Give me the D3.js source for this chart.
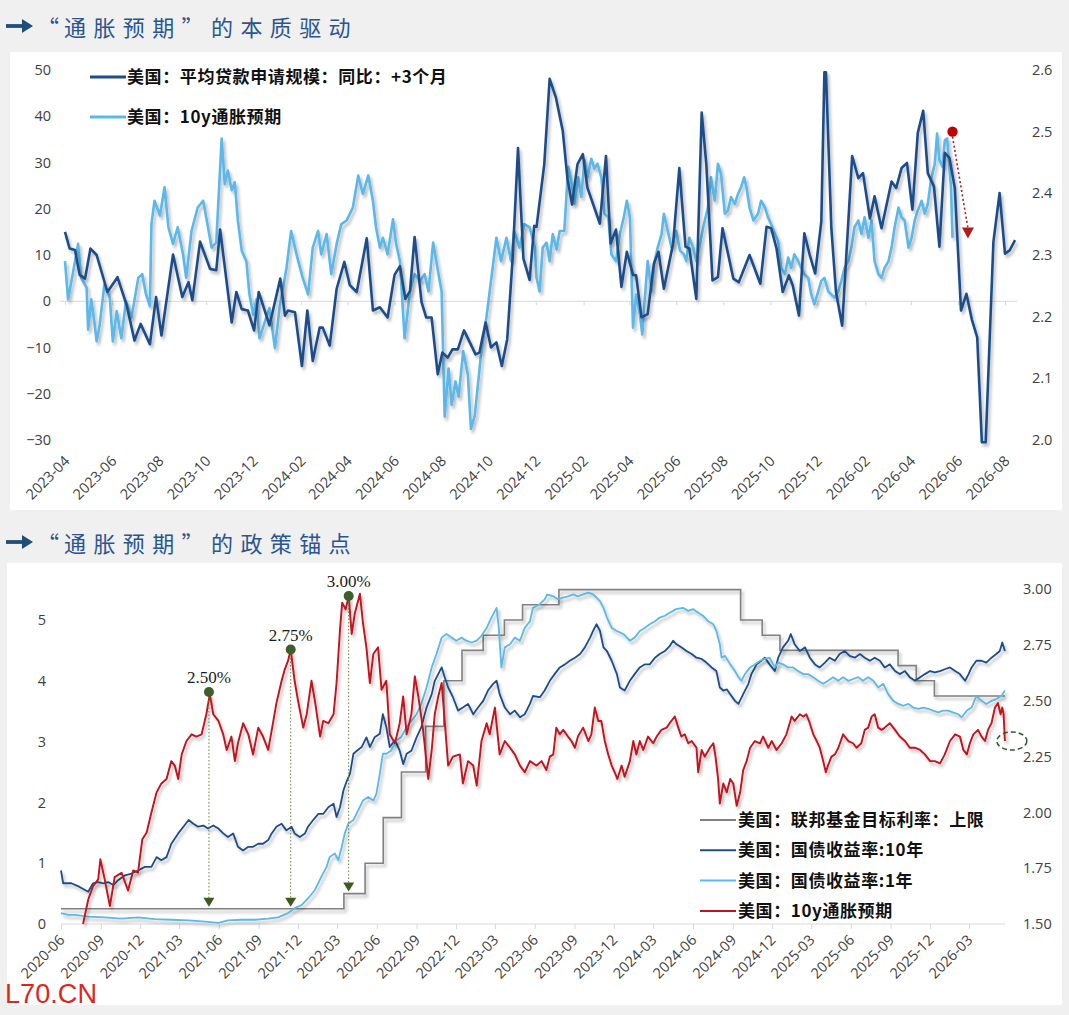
<!DOCTYPE html>
<html>
<head>
<meta charset="utf-8">
<script src="https://cdn.jsdelivr.net/npm/d3@7"></script>
<style>
body { margin: 0; background: #f0f0f0; }
svg { display: block; }
</style>
</head>
<body>
<svg id="chart" width="1069" height="1015"></svg>
<script>
// ---------- top chart data ----------
var topXTicks = ["2023-04","2023-06","2023-08","2023-10","2023-12","2024-02","2024-04","2024-06","2024-08","2024-10","2024-12",
  "2025-02","2025-04","2025-06","2025-08","2025-10","2025-12","2026-02","2026-04","2026-06","2026-08"];
var topLeftTicks = [-30,-20,-10,0,10,20,30,40,50];
var topRightTicks = [2.0,2.1,2.2,2.3,2.4,2.5,2.6];
var topLegend = ["美国：平均贷款申请规模：同比：+3个月", "美国：10y通胀预期"];

// 美国：平均贷款申请规模：同比（+3个月），左轴
var loanYoY = [
["2023-04-01",15.0],["2023-04-07",11.4],["2023-04-14",11.1],["2023-04-20",5.7],["2023-04-27",4.9],["2023-05-04",11.4],
["2023-05-12",10.0],["2023-05-26",2.0],["2023-06-08",5.2],["2023-06-20",-0.9],["2023-06-30",-8.5],["2023-07-08",-4.9],
["2023-07-20",-9.3],["2023-07-28",0.9],["2023-08-04",-7.4],["2023-08-19",10.1],["2023-08-31",0.9],["2023-09-08",4.1],
["2023-09-13",0.2],["2023-09-23",12.9],["2023-10-06",7.0],["2023-10-14",6.7],["2023-10-19",15.5],["2023-11-03",-4.6],
["2023-11-09",2.0],["2023-11-16",-1.7],["2023-11-24",-2.0],["2023-12-02",-6.3],["2023-12-08",2.0],["2023-12-22",-5.2],
["2024-01-05",4.9],["2024-01-11",-3.1],["2024-01-15",-2.0],["2024-01-24",-2.4],["2024-02-02",-14.0],["2024-02-09",-2.0],
["2024-02-16",-12.9],["2024-02-25",-5.7],["2024-02-29",-5.7],["2024-03-09",-9.6],["2024-03-18",2.7],["2024-03-28",8.5],
["2024-04-04",3.5],["2024-04-13",2.0],["2024-04-26",13.6],["2024-05-04",-2.0],["2024-05-13",-1.3],["2024-05-23",-3.5],
["2024-06-01",5.7],["2024-06-08",7.6],["2024-06-15",0.5],["2024-06-21",2.2],["2024-06-27",13.9],["2024-07-06",-0.2],
["2024-07-12",-3.5],["2024-07-19",-3.5],["2024-07-27",-15.8],["2024-08-02",-11.1],["2024-08-09",-12.2],["2024-08-15",-10.4],
["2024-08-22",-10.4],["2024-08-30",-6.3],["2024-09-14",-11.5],["2024-09-19",-11.1],["2024-09-27",-4.6],["2024-10-04",-10.0],
["2024-10-11",-8.9],["2024-10-18",-14.0],["2024-10-25",-8.2],["2024-11-01",9.2],["2024-11-08",33.1],["2024-11-15",9.2],
["2024-11-23",4.6],["2024-11-29",16.3],["2024-12-02",16.1],["2024-12-12",29.6],["2024-12-19",48.1],["2024-12-27",44.1],
["2025-01-05",36.8],["2025-01-11",26.6],["2025-01-17",20.9],["2025-01-24",29.6],["2025-01-31",31.8],["2025-02-06",24.5],
["2025-02-22",16.8],["2025-03-02",31.4],["2025-03-08",12.5],["2025-03-15",15.5],["2025-03-22",3.1],["2025-03-29",10.7],
["2025-04-06",5.7],["2025-04-10",5.6],["2025-04-17",-3.5],["2025-04-25",-2.8],["2025-05-03",8.1],["2025-05-09",10.7],
["2025-05-16",2.7],["2025-05-28",12.5],["2025-06-05",28.8],["2025-06-13",11.8],["2025-06-18",11.4],["2025-06-27",0.5],
["2025-07-04",40.8],["2025-07-10",29.6],["2025-07-18",4.5],["2025-07-25",5.2],["2025-07-31",15.8],["2025-08-14",4.9],
["2025-08-21",4.1],["2025-09-04",10.0],["2025-09-18",3.8],["2025-09-26",16.1],["2025-10-02",15.8],["2025-10-09",11.4],
["2025-10-17",2.0],["2025-10-25",5.6],["2025-10-30",3.4],["2025-11-07",-3.1],["2025-11-14",14.7],["2025-11-21",10.0],
["2025-11-28",6.0],["2025-12-06",17.2],["2025-12-10",49.5],["2025-12-12",49.5],["2025-12-19",15.8],["2025-12-25",2.0],
["2026-01-02",-5.3],["2026-01-15",31.4],["2026-01-23",26.6],["2026-01-29",27.7],["2026-02-07",17.9],["2026-02-13",22.7],
["2026-02-22",15.8],["2026-03-07",25.9],["2026-03-13",24.5],["2026-03-20",28.8],["2026-03-27",29.9],["2026-04-03",19.8],
["2026-04-10",36.4],["2026-04-17",41.2],["2026-04-23",27.7],["2026-05-01",24.8],["2026-05-08",11.8],["2026-05-15",32.1],
["2026-05-21",31.0],["2026-05-28",24.5],["2026-06-05",-2.0],["2026-06-12",1.6],["2026-06-19",-3.9],["2026-06-26",-7.8],
["2026-07-02",-30.5],["2026-07-07",-30.5],["2026-07-17",12.9],["2026-07-25",23.4],["2026-08-01",10.3],["2026-08-07",11.0],
["2026-08-14",13.2]
];

// 美国：10y通胀预期，右轴
var be10yTop = [
["2023-04-01",2.290],["2023-04-05",2.228],["2023-04-11",2.269],["2023-04-18",2.318],["2023-04-22",2.263],["2023-04-29",2.247],
["2023-05-01",2.179],["2023-05-05",2.228],["2023-05-09",2.192],["2023-05-12",2.160],["2023-05-16",2.187],["2023-05-22",2.252],
["2023-05-29",2.231],["2023-06-02",2.160],["2023-06-07",2.209],["2023-06-13",2.165],["2023-06-19",2.225],["2023-06-26",2.198],
["2023-07-05",2.263],["2023-07-10",2.269],["2023-07-15",2.236],["2023-07-20",2.217],["2023-07-22",2.350],["2023-07-26",2.388],
["2023-08-02",2.364],["2023-08-08",2.410],["2023-08-13",2.345],["2023-08-19",2.318],["2023-08-25",2.345],["2023-09-01",2.301],
["2023-09-05",2.263],["2023-09-12",2.339],["2023-09-20",2.377],["2023-09-27",2.388],["2023-10-01",2.361],["2023-10-08",2.312],
["2023-10-14",2.320],["2023-10-21",2.489],["2023-10-25",2.415],["2023-10-29",2.437],["2023-11-03",2.405],["2023-11-07",2.418],
["2023-11-11",2.356],["2023-11-16",2.307],["2023-11-22",2.290],["2023-11-26",2.236],["2023-12-01",2.203],["2023-12-05",2.228],
["2023-12-09",2.165],["2023-12-16",2.192],["2023-12-22",2.214],["2023-12-29",2.149],["2024-01-04",2.214],["2024-01-13",2.279],
["2024-01-19",2.339],["2024-01-26",2.301],["2024-02-03",2.263],["2024-02-10",2.236],["2024-02-16",2.312],["2024-02-23",2.339],
["2024-02-27",2.301],["2024-03-05",2.334],["2024-03-11",2.269],["2024-03-18",2.318],["2024-03-24",2.350],["2024-03-31",2.356],
["2024-04-08",2.377],["2024-04-15",2.429],["2024-04-21",2.399],["2024-04-28",2.429],["2024-05-04",2.388],["2024-05-08",2.345],
["2024-05-13",2.312],["2024-05-17",2.328],["2024-05-23",2.301],["2024-05-30",2.358],["2024-06-03",2.318],["2024-06-08",2.290],
["2024-06-14",2.165],["2024-06-21",2.241],["2024-06-27",2.269],["2024-07-04",2.258],["2024-07-10",2.269],["2024-07-15",2.241],
["2024-07-21",2.320],["2024-07-28",2.269],["2024-08-01",2.241],["2024-08-05",2.038],["2024-08-10",2.116],["2024-08-14",2.057],
["2024-08-19",2.095],["2024-08-23",2.070],["2024-08-29",2.144],["2024-09-04",2.106],["2024-09-08",2.018],["2024-09-13",2.040],
["2024-09-17",2.089],["2024-09-21",2.138],["2024-09-28",2.198],["2024-10-04",2.258],["2024-10-11",2.328],["2024-10-17",2.290],
["2024-10-24",2.328],["2024-10-30",2.290],["2024-11-03",2.339],["2024-11-10",2.312],["2024-11-16",2.350],["2024-11-23",2.345],
["2024-11-30",2.312],["2024-12-02",2.263],["2024-12-06",2.241],["2024-12-10",2.312],["2024-12-15",2.320],["2024-12-19",2.290],
["2024-12-23",2.334],["2024-12-28",2.309],["2025-01-01",2.339],["2025-01-07",2.339],["2025-01-12",2.443],["2025-01-16",2.421],
["2025-01-20",2.383],["2025-01-25",2.426],["2025-01-29",2.394],["2025-02-02",2.454],["2025-02-06",2.426],["2025-02-11",2.456],
["2025-02-15",2.440],["2025-02-19",2.448],["2025-02-24",2.426],["2025-02-28",2.367],["2025-03-05",2.361],["2025-03-09",2.301],
["2025-03-15",2.290],["2025-03-20",2.334],["2025-03-25",2.361],["2025-03-29",2.388],["2025-04-02",2.361],["2025-04-06",2.182],
["2025-04-10",2.236],["2025-04-15",2.203],["2025-04-18",2.171],["2025-04-21",2.225],["2025-04-25",2.290],["2025-04-30",2.241],
["2025-05-04",2.290],["2025-05-08",2.312],["2025-05-13",2.334],["2025-05-16",2.367],["2025-05-21",2.339],["2025-05-26",2.312],
["2025-06-01",2.339],["2025-06-06",2.307],["2025-06-11",2.301],["2025-06-14",2.290],["2025-06-18",2.328],["2025-06-23",2.312],
["2025-06-27",2.290],["2025-07-01",2.312],["2025-07-06",2.345],["2025-07-12",2.377],["2025-07-16",2.426],["2025-07-21",2.388],
["2025-07-25",2.448],["2025-07-29",2.432],["2025-08-03",2.367],["2025-08-07",2.372],["2025-08-11",2.394],["2025-08-16",2.383],
["2025-08-20",2.399],["2025-08-24",2.410],["2025-08-28",2.426],["2025-08-31",2.410],["2025-09-04",2.377],["2025-09-09",2.356],
["2025-09-15",2.367],["2025-09-19",2.388],["2025-09-24",2.377],["2025-09-28",2.361],["2025-10-02",2.350],["2025-10-07",2.334],
["2025-10-11",2.323],["2025-10-15",2.279],["2025-10-20",2.269],["2025-10-24",2.296],["2025-10-28",2.279],["2025-11-01",2.301],
["2025-11-06",2.290],["2025-11-10",2.279],["2025-11-14",2.269],["2025-11-19",2.263],["2025-11-23",2.236],["2025-11-27",2.220],
["2025-12-02",2.241],["2025-12-06",2.258],["2025-12-10",2.263],["2025-12-15",2.241],["2025-12-19",2.236],["2025-12-23",2.231],
["2025-12-28",2.241],["2026-01-01",2.258],["2026-01-05",2.279],["2026-01-10",2.290],["2026-01-14",2.312],["2026-01-18",2.345],
["2026-01-23",2.356],["2026-01-27",2.334],["2026-01-31",2.361],["2026-02-05",2.328],["2026-02-09",2.356],["2026-02-13",2.290],
["2026-02-18",2.269],["2026-02-22",2.263],["2026-02-26",2.279],["2026-03-03",2.290],["2026-03-07",2.312],["2026-03-11",2.345],
["2026-03-16",2.377],["2026-03-20",2.361],["2026-03-24",2.356],["2026-03-29",2.312],["2026-04-02",2.328],["2026-04-06",2.356],
["2026-04-10",2.372],["2026-04-15",2.388],["2026-04-19",2.367],["2026-04-23",2.383],["2026-04-27",2.421],["2026-05-02",2.448],
["2026-05-05",2.497],["2026-05-08",2.454],["2026-05-12",2.443],["2026-05-15",2.486],["2026-05-18",2.489],["2026-05-20",2.459],
["2026-05-23",2.410],["2026-05-25",2.328]
];
var topPeak = ["2026-05-25", 2.50];
var topArrowEnd = ["2026-06-14", 2.33];

// ---------- bottom chart data ----------
var bottomXTicks = ["2020-06","2020-09","2020-12","2021-03","2021-06","2021-09","2021-12","2022-03","2022-06","2022-09","2022-12",
  "2023-03","2023-06","2023-09","2023-12","2024-03","2024-06","2024-09","2024-12","2025-03","2025-06","2025-09","2025-12","2026-03"];
var bottomLeftTicks = [0,1,2,3,4,5];
var bottomRightTicks = [1.5,1.75,2.0,2.25,2.5,2.75,3.0];
var bottomLegend = ["美国：联邦基金目标利率：上限", "美国：国债收益率:10年", "美国：国债收益率:1年", "美国：10y通胀预期"];

// 联邦基金目标利率上限（阶梯）
var fedUpper = [
["2020-06-01",0.25],["2022-03-17",0.50],["2022-05-05",1.00],["2022-06-16",1.75],["2022-07-28",2.50],["2022-09-22",3.25],
["2022-11-03",4.00],["2022-12-15",4.50],["2023-02-02",4.75],["2023-03-23",5.00],["2023-05-04",5.25],["2023-07-27",5.50],
["2024-09-19",5.00],["2024-11-08",4.75],["2024-12-19",4.50],["2025-09-18",4.25],["2025-10-30",4.00],["2025-12-11",3.75],
["2026-05-23",3.75]
];

var ust10y = [
["2020-06-01",0.88],["2020-06-06",0.67],["2020-06-25",0.67],["2020-07-14",0.61],["2020-08-03",0.53],["2020-08-14",0.67],
["2020-08-26",0.69],["2020-09-07",0.67],["2020-09-18",0.69],["2020-09-30",0.64],["2020-10-11",0.72],["2020-10-27",0.80],
["2020-11-11",0.83],["2020-11-26",0.88],["2020-12-12",0.94],["2020-12-27",0.94],["2021-01-08",1.10],["2021-01-19",1.05],
["2021-01-31",1.10],["2021-02-11",1.32],["2021-02-27",1.49],["2021-03-11",1.60],["2021-03-23",1.71],["2021-04-03",1.65],
["2021-04-14",1.60],["2021-04-26",1.62],["2021-05-07",1.57],["2021-05-19",1.62],["2021-05-31",1.57],["2021-06-11",1.49],
["2021-06-22",1.43],["2021-07-04",1.49],["2021-07-15",1.27],["2021-07-27",1.21],["2021-08-08",1.27],["2021-08-19",1.27],
["2021-08-31",1.32],["2021-09-11",1.32],["2021-09-23",1.38],["2021-10-01",1.49],["2021-10-12",1.60],["2021-10-24",1.65],
["2021-11-04",1.54],["2021-11-16",1.60],["2021-11-23",1.49],["2021-12-05",1.43],["2021-12-17",1.49],["2021-12-24",1.60],
["2022-01-05",1.71],["2022-01-17",1.81],["2022-01-28",1.81],["2022-02-09",1.92],["2022-02-21",1.98],["2022-02-28",1.76],
["2022-03-08",1.92],["2022-03-16",2.20],["2022-03-24",2.36],["2022-03-31",2.47],["2022-04-08",2.80],["2022-04-16",2.85],
["2022-04-27",2.91],["2022-05-08",3.07],["2022-05-16",2.91],["2022-05-27",3.07],["2022-06-08",3.13],["2022-06-15",3.45],
["2022-06-23",3.24],["2022-07-01",2.91],["2022-07-13",3.02],["2022-07-24",2.85],["2022-08-01",2.63],["2022-08-09",2.80],
["2022-08-20",2.85],["2022-09-01",3.07],["2022-09-12",3.24],["2022-09-24",3.56],["2022-10-06",3.78],["2022-10-13",4.00],
["2022-10-21",4.11],["2022-10-29",4.22],["2022-11-05",4.06],["2022-11-13",3.89],["2022-11-24",3.73],["2022-12-06",3.51],
["2022-12-17",3.56],["2022-12-29",3.62],["2023-01-10",3.45],["2023-01-21",3.56],["2023-02-02",3.67],["2023-02-13",3.84],
["2023-02-25",3.95],["2023-03-05",4.00],["2023-03-12",3.78],["2023-03-24",3.56],["2023-04-05",3.45],["2023-04-16",3.51],
["2023-04-28",3.40],["2023-05-09",3.45],["2023-05-21",3.62],["2023-05-28",3.75],["2023-06-13",3.73],["2023-06-24",3.84],
["2023-07-06",4.00],["2023-07-17",4.11],["2023-07-29",4.22],["2023-08-10",4.27],["2023-08-21",4.33],["2023-09-02",4.38],
["2023-09-14",4.44],["2023-09-25",4.55],["2023-10-07",4.71],["2023-10-14",4.82],["2023-10-22",4.93],["2023-10-30",4.82],
["2023-11-07",4.55],["2023-11-15",4.49],["2023-11-26",4.33],["2023-12-08",4.11],["2023-12-15",3.89],["2023-12-26",3.84],
["2024-01-07",4.00],["2024-01-18",4.11],["2024-01-30",4.22],["2024-02-10",4.27],["2024-02-22",4.27],["2024-03-05",4.38],
["2024-03-16",4.44],["2024-03-28",4.49],["2024-04-08",4.57],["2024-04-16",4.66],["2024-04-24",4.60],["2024-05-05",4.55],
["2024-05-17",4.49],["2024-05-29",4.44],["2024-06-09",4.38],["2024-06-21",4.36],["2024-07-02",4.30],["2024-07-14",4.22],
["2024-07-25",4.16],["2024-08-02",3.89],["2024-08-10",3.84],["2024-08-18",3.86],["2024-08-26",3.78],["2024-09-06",3.67],
["2024-09-14",3.62],["2024-09-25",3.78],["2024-10-07",3.95],["2024-10-14",4.11],["2024-10-26",4.27],["2024-11-06",4.33],
["2024-11-14",4.38],["2024-11-25",4.27],["2024-12-07",4.16],["2024-12-15",4.38],["2024-12-26",4.55],["2025-01-07",4.66],
["2025-01-13",4.77],["2025-01-22",4.60],["2025-02-03",4.49],["2025-02-15",4.55],["2025-02-26",4.38],["2025-03-10",4.27],
["2025-03-21",4.22],["2025-04-02",4.30],["2025-04-13",4.38],["2025-04-25",4.33],["2025-05-06",4.44],["2025-05-18",4.49],
["2025-05-29",4.41],["2025-06-10",4.38],["2025-06-22",4.44],["2025-07-03",4.38],["2025-07-15",4.33],["2025-07-26",4.38],
["2025-08-07",4.33],["2025-08-18",4.22],["2025-08-30",4.27],["2025-09-11",4.16],["2025-09-22",4.11],["2025-10-04",4.16],
["2025-10-15",4.06],["2025-10-27",4.00],["2025-11-08",4.06],["2025-11-19",4.11],["2025-12-01",4.16],["2025-12-12",4.14],
["2025-12-24",4.16],["2026-01-04",4.19],["2026-01-16",4.22],["2026-01-28",4.16],["2026-02-08",4.11],["2026-02-20",4.00],
["2026-02-28",4.11],["2026-03-07",4.22],["2026-03-18",4.33],["2026-03-30",4.33],["2026-04-10",4.30],["2026-04-22",4.38],
["2026-05-03",4.44],["2026-05-11",4.49],["2026-05-17",4.63],["2026-05-23",4.49]
];

var ust1y = [
["2020-06-01",0.18],["2020-06-18",0.15],["2020-07-03",0.15],["2020-08-03",0.12],["2020-09-10",0.11],["2020-10-19",0.09],
["2020-11-26",0.11],["2021-01-04",0.08],["2021-02-11",0.07],["2021-03-23",0.06],["2021-04-30",0.04],["2021-05-31",0.02],
["2021-06-22",0.06],["2021-07-23",0.07],["2021-08-23",0.07],["2021-09-23",0.09],["2021-10-16",0.11],["2021-11-08",0.18],
["2021-11-23",0.26],["2021-12-09",0.31],["2021-12-24",0.42],["2022-01-09",0.56],["2022-01-24",0.78],["2022-02-05",0.94],
["2022-02-12",1.10],["2022-02-24",1.16],["2022-03-04",1.05],["2022-03-12",1.27],["2022-03-19",1.49],["2022-03-27",1.65],
["2022-04-08",1.71],["2022-04-19",1.87],["2022-04-30",2.03],["2022-05-12",2.09],["2022-05-24",2.03],["2022-05-31",2.14],
["2022-06-08",2.47],["2022-06-15",2.80],["2022-06-23",2.80],["2022-07-04",2.85],["2022-07-16",3.02],["2022-07-27",3.07],
["2022-08-09",3.24],["2022-08-20",3.34],["2022-09-01",3.45],["2022-09-12",3.62],["2022-09-24",3.89],["2022-10-06",4.22],
["2022-10-17",4.44],["2022-10-29",4.71],["2022-11-09",4.77],["2022-11-21",4.71],["2022-12-02",4.66],["2022-12-14",4.71],
["2022-12-25",4.66],["2023-01-06",4.63],["2023-01-18",4.66],["2023-01-29",4.74],["2023-02-10",4.87],["2023-02-21",5.04],
["2023-03-05",5.20],["2023-03-10",4.87],["2023-03-16",4.22],["2023-03-24",4.55],["2023-04-05",4.60],["2023-04-16",4.71],
["2023-04-28",4.66],["2023-05-09",4.87],["2023-05-21",4.98],["2023-05-28",5.20],["2023-06-13",5.26],["2023-06-24",5.34],
["2023-06-30",5.42],["2023-07-14",5.39],["2023-07-25",5.34],["2023-08-06",5.37],["2023-08-17",5.39],["2023-08-29",5.42],
["2023-09-09",5.39],["2023-09-21",5.42],["2023-10-03",5.45],["2023-10-14",5.42],["2023-10-22",5.37],["2023-10-30",5.31],
["2023-11-07",5.20],["2023-11-15",5.04],["2023-11-26",4.87],["2023-12-08",4.82],["2023-12-23",4.77],["2024-01-07",4.66],
["2024-01-18",4.71],["2024-01-30",4.82],["2024-02-10",4.87],["2024-02-22",4.93],["2024-03-05",4.98],["2024-03-16",5.04],
["2024-03-28",5.07],["2024-04-08",5.12],["2024-04-16",5.15],["2024-04-23",5.18],["2024-05-09",5.20],["2024-05-21",5.15],
["2024-06-01",5.18],["2024-06-13",5.12],["2024-06-24",5.07],["2024-07-06",4.98],["2024-07-18",4.93],["2024-07-25",4.82],
["2024-08-02",4.60],["2024-08-06",4.38],["2024-08-14",4.41],["2024-08-26",4.27],["2024-09-06",4.16],["2024-09-14",4.06],
["2024-09-21",4.00],["2024-09-29",4.11],["2024-10-11",4.22],["2024-10-22",4.27],["2024-11-03",4.33],["2024-11-14",4.36],
["2024-11-25",4.38],["2024-12-07",4.22],["2024-12-15",4.30],["2024-12-26",4.27],["2025-01-07",4.22],["2025-01-18",4.22],
["2025-01-30",4.16],["2025-02-11",4.11],["2025-02-22",4.11],["2025-03-06",4.06],["2025-03-17",4.00],["2025-03-29",3.95],
["2025-04-09",4.00],["2025-04-21",4.06],["2025-05-03",4.00],["2025-05-14",4.06],["2025-05-26",4.00],["2025-06-06",4.03],
["2025-06-18",4.06],["2025-06-29",4.00],["2025-07-11",4.06],["2025-07-23",4.00],["2025-08-03",3.89],["2025-08-15",3.95],
["2025-08-26",3.78],["2025-09-07",3.67],["2025-09-19",3.62],["2025-09-30",3.59],["2025-10-12",3.62],["2025-10-23",3.56],
["2025-11-04",3.54],["2025-11-15",3.56],["2025-11-27",3.54],["2025-12-08",3.51],["2025-12-20",3.48],["2025-12-31",3.51],
["2026-01-12",3.51],["2026-01-23",3.48],["2026-02-04",3.45],["2026-02-12",3.40],["2026-02-24",3.51],["2026-03-07",3.56],
["2026-03-18",3.75],["2026-03-30",3.67],["2026-04-10",3.62],["2026-04-22",3.67],["2026-05-03",3.70],["2026-05-15",3.75],
["2026-05-23",3.84]
];

// 美国：10y通胀预期（右轴）
var be10yLong = [
["2020-07-22",1.50],["2020-08-03",1.61],["2020-08-14",1.67],["2020-08-26",1.70],["2020-08-31",1.79],["2020-09-10",1.70],
["2020-09-22",1.58],["2020-10-03",1.71],["2020-10-19",1.73],["2020-11-03",1.65],["2020-11-15",1.74],["2020-11-26",1.73],
["2020-12-06",1.88],["2020-12-16",1.91],["2020-12-27",2.00],["2021-01-08",2.09],["2021-01-19",2.13],["2021-01-31",2.15],
["2021-02-11",2.23],["2021-02-19",2.21],["2021-02-27",2.15],["2021-03-07",2.26],["2021-03-18",2.32],["2021-03-30",2.35],
["2021-04-10",2.34],["2021-04-22",2.35],["2021-05-03",2.44],["2021-05-11",2.53],["2021-05-19",2.44],["2021-05-31",2.41],
["2021-06-11",2.35],["2021-06-19",2.28],["2021-06-30",2.34],["2021-07-08",2.23],["2021-07-15",2.31],["2021-07-27",2.40],
["2021-08-08",2.35],["2021-08-19",2.26],["2021-08-31",2.38],["2021-09-11",2.34],["2021-09-23",2.28],["2021-10-04",2.40],
["2021-10-12",2.49],["2021-10-24",2.59],["2021-10-31",2.64],["2021-11-08",2.68],["2021-11-14",2.73],["2021-11-23",2.59],
["2021-12-01",2.50],["2021-12-13",2.38],["2021-12-21",2.44],["2022-01-01",2.59],["2022-01-09",2.50],["2022-01-21",2.34],
["2022-01-28",2.41],["2022-02-09",2.40],["2022-02-21",2.44],["2022-02-28",2.58],["2022-03-08",2.82],["2022-03-13",2.94],
["2022-03-21",2.91],["2022-03-28",2.97],["2022-04-04",2.80],["2022-04-11",2.89],["2022-04-23",2.98],["2022-04-30",2.85],
["2022-05-08",2.74],["2022-05-16",2.58],["2022-05-24",2.71],["2022-06-04",2.74],["2022-06-12",2.55],["2022-06-23",2.59],
["2022-07-01",2.35],["2022-07-13",2.31],["2022-07-24",2.40],["2022-08-01",2.52],["2022-08-09",2.35],["2022-08-20",2.44],
["2022-08-28",2.61],["2022-09-05",2.52],["2022-09-16",2.37],["2022-09-28",2.15],["2022-10-06",2.28],["2022-10-13",2.44],
["2022-10-21",2.52],["2022-10-29",2.58],["2022-11-05",2.41],["2022-11-13",2.21],["2022-11-24",2.25],["2022-12-10",2.26],
["2022-12-17",2.13],["2022-12-29",2.23],["2023-01-10",2.21],["2023-01-18",2.12],["2023-01-29",2.32],["2023-02-10",2.40],
["2023-02-17",2.35],["2023-03-01",2.47],["2023-03-12",2.26],["2023-03-24",2.32],["2023-04-05",2.29],["2023-04-16",2.26],
["2023-04-28",2.21],["2023-05-09",2.18],["2023-05-21",2.23],["2023-06-05",2.21],["2023-06-17",2.23],["2023-06-28",2.19],
["2023-07-06",2.25],["2023-07-14",2.26],["2023-07-21",2.38],["2023-07-29",2.35],["2023-08-06",2.37],["2023-08-17",2.34],
["2023-08-25",2.32],["2023-09-02",2.29],["2023-09-09",2.34],["2023-09-21",2.38],["2023-10-03",2.32],["2023-10-10",2.35],
["2023-10-18",2.47],["2023-10-26",2.41],["2023-11-02",2.41],["2023-11-10",2.32],["2023-11-18",2.26],["2023-11-26",2.21],
["2023-12-03",2.18],["2023-12-09",2.15],["2023-12-19",2.21],["2023-12-26",2.16],["2024-01-07",2.23],["2024-01-15",2.32],
["2024-01-22",2.26],["2024-01-30",2.32],["2024-02-07",2.28],["2024-02-18",2.34],["2024-03-01",2.31],["2024-03-09",2.34],
["2024-03-20",2.37],["2024-04-01",2.38],["2024-04-08",2.40],["2024-04-20",2.43],["2024-04-28",2.38],["2024-05-05",2.34],
["2024-05-13",2.35],["2024-05-21",2.31],["2024-05-29",2.32],["2024-06-09",2.29],["2024-06-13",2.18],["2024-06-21",2.28],
["2024-06-28",2.25],["2024-07-10",2.29],["2024-07-18",2.31],["2024-07-23",2.25],["2024-07-29",2.15],["2024-08-02",2.04],
["2024-08-10",2.13],["2024-08-18",2.09],["2024-08-26",2.15],["2024-09-02",2.13],["2024-09-10",2.03],["2024-09-18",2.09],
["2024-09-25",2.19],["2024-10-03",2.23],["2024-10-11",2.29],["2024-10-22",2.32],["2024-11-03",2.31],["2024-11-10",2.34],
["2024-11-22",2.29],["2024-11-30",2.32],["2024-12-11",2.28],["2024-12-23",2.31],["2025-01-03",2.35],["2025-01-15",2.43],
["2025-01-22",2.41],["2025-02-03",2.44],["2025-02-11",2.43],["2025-02-18",2.44],["2025-02-26",2.40],["2025-03-06",2.35],
["2025-03-14",2.32],["2025-03-21",2.29],["2025-03-29",2.23],["2025-04-04",2.18],["2025-04-09",2.21],["2025-04-17",2.25],
["2025-04-25",2.26],["2025-05-03",2.29],["2025-05-14",2.35],["2025-05-26",2.32],["2025-06-06",2.31],["2025-06-14",2.29],
["2025-06-25",2.31],["2025-07-03",2.37],["2025-07-11",2.38],["2025-07-19",2.43],["2025-07-26",2.44],["2025-08-03",2.38],
["2025-08-11",2.37],["2025-08-18",2.38],["2025-08-30",2.40],["2025-09-11",2.37],["2025-09-22",2.34],["2025-10-04",2.32],
["2025-10-15",2.29],["2025-10-27",2.29],["2025-11-08",2.28],["2025-11-19",2.26],["2025-12-01",2.23],["2025-12-12",2.23],
["2025-12-24",2.22],["2026-01-04",2.26],["2026-01-16",2.32],["2026-01-28",2.35],["2026-02-08",2.34],["2026-02-16",2.28],
["2026-02-24",2.26],["2026-03-03",2.31],["2026-03-11",2.35],["2026-03-22",2.37],["2026-03-30",2.34],["2026-04-07",2.32],
["2026-04-14",2.37],["2026-04-22",2.40],["2026-04-30",2.47],["2026-05-07",2.49],["2026-05-13",2.44],["2026-05-17",2.47],
["2026-05-20",2.44],["2026-05-23",2.32]
];

// 通胀预期峰值与当时的政策利率
var policyMarks = [
  { date: "2021-05-09", be: 2.54, label: "2.50%", fed: 0.25 },
  { date: "2021-11-14", be: 2.73, label: "2.75%", fed: 0.25 },
  { date: "2022-03-28", be: 2.97, label: "3.00%", fed: 0.50 }
];
var refLevels = [2.49, 2.15];
var endMark = ["2026-06-08", 2.32];

// ---------- drawing ----------
var CJK = "'Noto Sans CJK SC', 'Noto Sans', sans-serif";
var NUM = "'Open Sans', 'Noto Sans', sans-serif";
var parseDay = d3.utcParse("%Y-%m-%d");
var parseMonth = d3.utcParse("%Y-%m");

function rows(arr) {
  return arr.map(function(d) { return { date: parseDay(d[0]), v: d[1] }; });
}

var svg = d3.select("#chart");
svg.append("rect").attr("width", 1069).attr("height", 1015).attr("fill", "#f0f0f0");

var defs = svg.append("defs");
var f = defs.append("filter").attr("id", "shadow").attr("x", "-5%").attr("y", "-5%").attr("width", "110%").attr("height", "115%");
f.append("feDropShadow").attr("dx", 2).attr("dy", 3).attr("stdDeviation", 1.8)
  .attr("flood-color", "#000").attr("flood-opacity", 0.28);

// panels
svg.append("rect").attr("x", 10).attr("y", 52).attr("width", 1052).attr("height", 458).attr("fill", "#fff");
svg.append("rect").attr("x", 7).attr("y", 563).attr("width", 1055).attr("height", 442).attr("fill", "#fff");

// title: arrow + characters placed on an even pitch
function drawTitle(yBase, text) {
  svg.append("path").attr("d", "M6," + (yBase - 10) + "H25")
    .attr("stroke", "#1f4e79").attr("stroke-width", 3.8).attr("fill", "none");
  svg.append("path").attr("d", "M22," + (yBase - 17) + "L33," + (yBase - 10) + "L22," + (yBase - 3) + "Z")
    .attr("fill", "#1f4e79");
  var chars = Array.from(text);
  var xs = chars.map(function(c, i) { return i === 0 ? 37 : 64 + (i - 1) * 29.4; });
  svg.append("text").attr("x", xs.join(" ")).attr("y", yBase).text(text)
    .attr("font-family", CJK).attr("font-size", 22)
    .attr("fill", "#2a5592");
}
drawTitle(36, "“通胀预期”的本质驱动");
drawTitle(552, "“通胀预期”的政策锚点");

function styleAxisText(g, size) {
  g.selectAll("text").attr("font-family", NUM).attr("font-size", size).attr("fill", "#404040");
}

// ===== top chart =====
var xTop = d3.scaleUtc().domain([parseMonth("2023-04"), parseMonth("2026-08")]).range([65, 1005]);
var yTopL = d3.scaleLinear().domain([-30, 50]).range([440, 70]);
var yTopR = d3.scaleLinear().domain([2.0, 2.6]).range([440, 70]);

var gTL = svg.append("g").attr("transform", "translate(51,0)")
  .call(d3.axisLeft(yTopL).tickValues(topLeftTicks).tickSize(0).tickPadding(0));
gTL.select(".domain").remove();
styleAxisText(gTL, 14.5);

var gTR = svg.append("g").attr("transform", "translate(1032,0)")
  .call(d3.axisRight(yTopR).tickValues(topRightTicks).tickSize(0).tickPadding(0).tickFormat(d3.format(".1f")));
gTR.select(".domain").remove();
styleAxisText(gTR, 14.5);

var y0Top = yTopL(0);
svg.append("line").attr("x1", 60).attr("x2", 1017).attr("y1", y0Top).attr("y2", y0Top)
  .attr("stroke", "#d9d9d9").attr("stroke-width", 1);
var gTX = svg.append("g").attr("transform", "translate(0," + y0Top + ")")
  .call(d3.axisBottom(xTop).tickValues(topXTicks.map(parseMonth)).tickSize(4).tickFormat(d3.utcFormat("%Y-%m")));
gTX.select(".domain").remove();
gTX.selectAll(".tick line").attr("stroke", "#d9d9d9");
gTX.selectAll("text").attr("x", 0).attr("y", 0).attr("dy", null)
  .attr("transform", "translate(5," + (462 - y0Top) + ") rotate(-45)")
  .style("text-anchor", "end");
styleAxisText(gTX, 14.5);

var lineTopL = d3.line().x(function(d) { return xTop(d.date); }).y(function(d) { return yTopL(d.v); });
var lineTopR = d3.line().x(function(d) { return xTop(d.date); }).y(function(d) { return yTopR(d.v); });

svg.append("path").datum(rows(be10yTop)).attr("d", lineTopR)
  .attr("fill", "none").attr("stroke", "#5bb8e8").attr("stroke-width", 2.6)
  .attr("stroke-linejoin", "round").attr("filter", "url(#shadow)");
svg.append("path").datum(rows(loanYoY)).attr("d", lineTopL)
  .attr("fill", "none").attr("stroke", "#1d4e89").attr("stroke-width", 2.6)
  .attr("stroke-linejoin", "round").attr("filter", "url(#shadow)");

// red peak marker and arrow
var px = xTop(parseDay(topPeak[0])), py = yTopR(topPeak[1]);
var ax = xTop(parseDay(topArrowEnd[0])), ay = yTopR(topArrowEnd[1]);
svg.append("line").attr("x1", px).attr("y1", py + 5).attr("x2", ax).attr("y2", ay - 8)
  .attr("stroke", "#b01c1c").attr("stroke-width", 1.6).attr("stroke-dasharray", "2,2.5");
svg.append("path").attr("d", "M" + (ax - 6) + "," + (ay - 9) + "L" + (ax + 6) + "," + (ay - 9) + "L" + ax + "," + (ay + 2) + "Z")
  .attr("fill", "#b01c1c");
svg.append("circle").attr("cx", px).attr("cy", py).attr("r", 5.2).attr("fill", "#c00000");

// top legend
var topLegColors = ["#1d4e89", "#5bb8e8"];
topLegend.forEach(function(t, i) {
  var yy = 77 + i * 40;
  svg.append("line").attr("x1", 90).attr("x2", 126).attr("y1", yy).attr("y2", yy)
    .attr("stroke", topLegColors[i]).attr("stroke-width", 3);
  svg.append("text").attr("x", 127).attr("y", yy).attr("dy", "0.36em").text(t)
    .attr("font-family", CJK).attr("font-size", 17).attr("font-weight", "bold")
    .attr("letter-spacing", 0.6).attr("fill", "#111");
});

// ===== bottom chart =====
var xBot = d3.scaleUtc().domain([parseMonth("2020-06"), parseMonth("2026-03")]).range([61, 969]);
var yBotL = d3.scaleLinear().domain([0, 5.5]).range([924, 589.6]);
var yBotR = d3.scaleLinear().domain([1.5, 3.0]).range([924, 589.3]);

var gBL = svg.append("g").attr("transform", "translate(46,0)")
  .call(d3.axisLeft(yBotL).tickValues(bottomLeftTicks).tickSize(0).tickPadding(0).tickFormat(d3.format("d")));
gBL.select(".domain").remove();
styleAxisText(gBL, 14.5);

var gBR = svg.append("g").attr("transform", "translate(1023,0)")
  .call(d3.axisRight(yBotR).tickValues(bottomRightTicks).tickSize(0).tickPadding(0).tickFormat(d3.format(".2f")));
gBR.select(".domain").remove();
styleAxisText(gBR, 14.5);

svg.append("line").attr("x1", 61).attr("x2", 1005).attr("y1", 924).attr("y2", 924)
  .attr("stroke", "#d9d9d9").attr("stroke-width", 1.2);
var gBX = svg.append("g").attr("transform", "translate(0,924)")
  .call(d3.axisBottom(xBot).tickValues(bottomXTicks.map(parseMonth)).tickSize(5).tickFormat(d3.utcFormat("%Y-%m")));
gBX.select(".domain").remove();
gBX.selectAll(".tick line").attr("stroke", "#d9d9d9");
gBX.selectAll("text").attr("x", 0).attr("y", 0).attr("dy", null)
  .attr("transform", "translate(4,17) rotate(-45)")
  .style("text-anchor", "end");
styleAxisText(gBX, 14.5);

// dash-dot reference levels
refLevels.forEach(function(v) {
  svg.append("line").attr("x1", 73).attr("x2", 1013).attr("y1", yBotR(v)).attr("y2", yBotR(v))
    .attr("stroke", "#c8c8c8").attr("stroke-width", 3).attr("stroke-dasharray", "12,8,3,8")
    .attr("filter", "url(#shadow)");
});

var lineBotL = d3.line().x(function(d) { return xBot(d.date); }).y(function(d) { return yBotL(d.v); });
var stepBotL = d3.line().curve(d3.curveStepAfter).x(function(d) { return xBot(d.date); }).y(function(d) { return yBotL(d.v); });
var lineBotR = d3.line().x(function(d) { return xBot(d.date); }).y(function(d) { return yBotR(d.v); });

svg.append("path").datum(rows(fedUpper)).attr("d", stepBotL)
  .attr("fill", "none").attr("stroke", "#808080").attr("stroke-width", 1.6).attr("filter", "url(#shadow)");
svg.append("path").datum(rows(ust10y)).attr("d", lineBotL)
  .attr("fill", "none").attr("stroke", "#1d4e89").attr("stroke-width", 1.8)
  .attr("stroke-linejoin", "round").attr("filter", "url(#shadow)");
svg.append("path").datum(rows(ust1y)).attr("d", lineBotL)
  .attr("fill", "none").attr("stroke", "#5ab9e6").attr("stroke-width", 1.8)
  .attr("stroke-linejoin", "round").attr("filter", "url(#shadow)");
svg.append("path").datum(rows(be10yLong)).attr("d", lineBotR)
  .attr("fill", "none").attr("stroke", "#c1121f").attr("stroke-width", 1.9)
  .attr("stroke-linejoin", "round").attr("filter", "url(#shadow)");

// policy anchor markers
policyMarks.forEach(function(m) {
  var mx = xBot(parseDay(m.date)), my = yBotR(m.be), fy = yBotL(m.fed) - 2;
  svg.append("line").attr("x1", mx).attr("x2", mx).attr("y1", my + 5).attr("y2", fy - 8)
    .attr("stroke", "#6b7f3a").attr("stroke-width", 1).attr("stroke-dasharray", "1.5,2");
  svg.append("path").attr("d", "M" + (mx - 5.5) + "," + (fy - 9) + "L" + (mx + 5.5) + "," + (fy - 9) + "L" + mx + "," + fy + "Z")
    .attr("fill", "#3f5a1e");
  svg.append("circle").attr("cx", mx).attr("cy", my).attr("r", 5).attr("fill", "#3b5e2b");
  svg.append("text").attr("x", mx).attr("y", my - 9).attr("text-anchor", "middle").text(m.label)
    .attr("font-family", "'Liberation Serif', 'DejaVu Serif', serif").attr("font-size", 17).attr("fill", "#1a1a1a");
});

// dashed ellipse at the latest point
svg.append("ellipse").attr("cx", xBot(parseDay(endMark[0]))).attr("cy", yBotR(endMark[1]))
  .attr("rx", 15).attr("ry", 9).attr("fill", "none").attr("stroke", "#2f5a2a")
  .attr("stroke-width", 1.5).attr("stroke-dasharray", "5,3");

// bottom legend
var botLegColors = ["#808080", "#1d4e89", "#5ab9e6", "#c1121f"];
bottomLegend.forEach(function(t, i) {
  var yy = 820 + i * 30.3;
  svg.append("line").attr("x1", 700).attr("x2", 736).attr("y1", yy).attr("y2", yy)
    .attr("stroke", botLegColors[i]).attr("stroke-width", 2);
  svg.append("text").attr("x", 738).attr("y", yy).attr("dy", "0.36em").text(t)
    .attr("font-family", CJK).attr("font-size", 17).attr("font-weight", "bold")
    .attr("letter-spacing", 0.6).attr("fill", "#111");
});

// watermark
svg.append("text").attr("x", 5).attr("y", 1003).text("L70.CN")
  .attr("font-family", "'Liberation Sans Narrow', 'Liberation Sans', sans-serif")
  .attr("font-size", 27).attr("fill", "#e0261b")
  .attr("textLength", 92).attr("lengthAdjust", "spacingAndGlyphs");
</script>
</body>
</html>
